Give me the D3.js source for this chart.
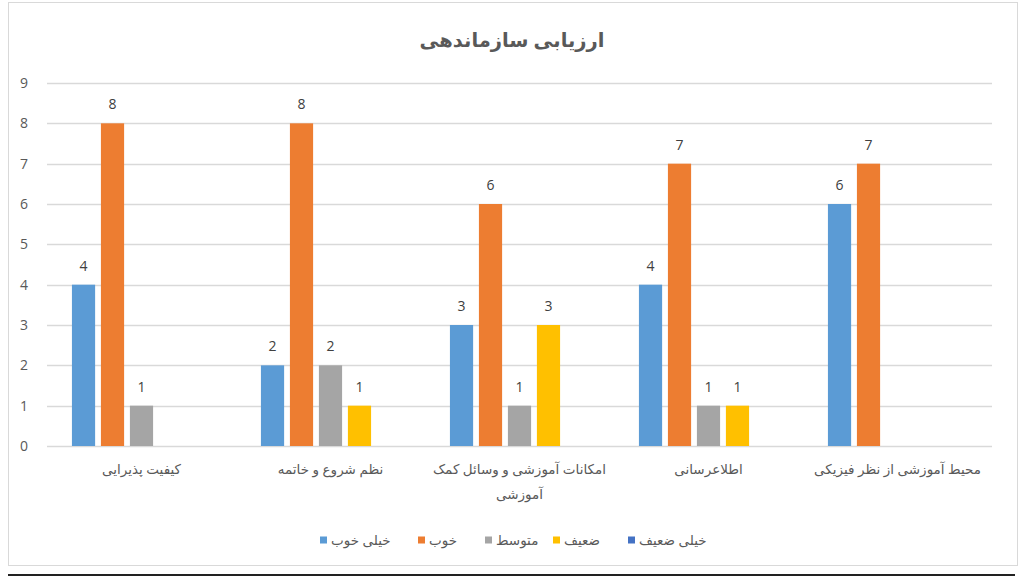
<!DOCTYPE html>
<html>
<head>
<meta charset="utf-8">
<script src="https://cdn.jsdelivr.net/npm/d3@7"></script>
<style>
  body { margin: 0; background: #fff; }
  svg { display: block; }
</style>
</head>
<body>
<svg id="chart" width="1024" height="577"></svg>
<script>
const title = "ارزیابی سازماندهی";
const categories = [
  "کیفیت پذیرایی",
  "نظم شروع و خاتمه",
  "امکانات آموزشی و وسائل کمک آموزشی",
  "اطلاعرسانی",
  "محیط آموزشی از نظر فیزیکی"
];
const seriesNames = ["خیلی خوب", "خوب", "متوسط", "ضعیف", "خیلی ضعیف"];
const seriesColors = ["#5b9bd5", "#ed7d31", "#a5a5a5", "#ffc000", "#4472c4"];
// one array per series, in category order
const veryGood = [4, 2, 3, 4, 6];
const good = [8, 8, 6, 7, 7];
const average = [1, 2, 1, 1, 0];
const weak = [0, 1, 3, 1, 0];
const veryWeak = [0, 0, 0, 0, 0];
const yTicks = [0, 1, 2, 3, 4, 5, 6, 7, 8, 9];

const seriesValues = [veryGood, good, average, weak, veryWeak];
const svg = d3.select("#chart");
const fontFamily = "'Open Sans', 'DejaVu Sans', sans-serif";

// chart frame
svg.append("rect")
  .attr("x", 8.5).attr("y", 2.5)
  .attr("width", 1009).attr("height", 563)
  .attr("fill", "#fff")
  .attr("stroke", "#d9d9d9");

svg.append("line")
  .attr("x1", 8).attr("x2", 1015)
  .attr("y1", 575).attr("y2", 575)
  .attr("stroke", "#222")
  .attr("stroke-width", 2);

const plot = { left: 47, right: 992, top: 83, bottom: 446 };

const y = d3.scaleLinear().domain([0, 9]).range([plot.bottom, plot.top]);
const x0 = d3.scaleBand().domain(categories).range([plot.left, plot.right]);
const x1 = d3.scaleBand()
  .domain(seriesNames)
  .range([0, x0.bandwidth()])
  .paddingInner(0.2)
  .paddingOuter(0.86);

// gridlines
svg.append("g")
  .selectAll("line")
  .data(yTicks)
  .join("line")
  .attr("x1", plot.left).attr("x2", plot.right)
  .attr("y1", (d) => Math.round(y(d)) + 0.5)
  .attr("y2", (d) => Math.round(y(d)) + 0.5)
  .attr("stroke", "#d9d9d9")
  .attr("stroke-width", 1.3);

// y axis labels
const yAxis = d3.axisLeft(y).tickValues(yTicks).tickSize(0).tickPadding(0);
svg.append("g")
  .attr("transform", `translate(${plot.left - 19},0)`)
  .call(yAxis)
  .call((g) => g.select(".domain").remove())
  .selectAll("text")
  .attr("fill", "#595959")
  .style("font-family", fontFamily)
  .style("font-size", "14px");

// bars
const rows = categories.map((c, i) => ({
  category: c,
  values: seriesNames.map((s, j) => ({ series: s, value: seriesValues[j][i], color: seriesColors[j] }))
}));

const groups = svg.append("g")
  .selectAll("g")
  .data(rows)
  .join("g")
  .attr("transform", (d) => `translate(${x0(d.category)},0)`);

groups.selectAll("rect")
  .data((d) => d.values)
  .join("rect")
  .attr("x", (d) => x1(d.series))
  .attr("width", x1.bandwidth())
  .attr("y", (d) => y(d.value))
  .attr("height", (d) => y(0) - y(d.value))
  .attr("fill", (d) => d.color);

// data labels, only for non-zero values
groups.selectAll("text")
  .data((d) => d.values.filter((v) => v.value > 0))
  .join("text")
  .attr("x", (d) => x1(d.series) + x1.bandwidth() / 2)
  .attr("y", (d) => y(d.value) - 14)
  .attr("text-anchor", "middle")
  .attr("fill", "#404040")
  .style("font-family", fontFamily)
  .style("font-size", "14px")
  .text((d) => d.value);

// category labels with word wrap (right-to-left)
const xLabels = svg.append("g")
  .selectAll("text")
  .data(categories)
  .join("text")
  .attr("x", (d) => x0(d) + x0.bandwidth() / 2)
  .attr("y", 474)
  .attr("text-anchor", "middle")
  .attr("direction", "rtl")
  .attr("fill", "#595959")
  .style("font-family", fontFamily)
  .style("font-size", "13.5px");

xLabels.each(function (d) {
  const text = d3.select(this);
  const words = d.split(" ");
  const maxWidth = x0.bandwidth() - 4;
  let line = [];
  let tspan = text.append("tspan").attr("x", text.attr("x")).attr("dy", 0);
  for (const w of words) {
    line.push(w);
    tspan.text(line.join(" "));
    if (tspan.node().getComputedTextLength() > maxWidth && line.length > 1) {
      line.pop();
      tspan.text(line.join(" "));
      line = [w];
      tspan = text.append("tspan")
        .attr("x", text.attr("x"))
        .attr("dy", "1.85em")
        .text(w);
    }
  }
});

// title
svg.append("text")
  .attr("x", 512)
  .attr("y", 47)
  .attr("text-anchor", "middle")
  .attr("direction", "rtl")
  .attr("fill", "#595959")
  .style("font-family", fontFamily)
  .style("font-size", "19.5px")
  .style("font-weight", "bold")
  .text(title);

// legend
const legendX = [320, 418, 485, 553, 628];
const legend = svg.append("g")
  .selectAll("g")
  .data(seriesNames)
  .join("g")
  .attr("transform", (d, i) => `translate(${legendX[i]},540)`);

legend.append("rect")
  .attr("x", 0).attr("y", -3.5)
  .attr("width", 7).attr("height", 7)
  .attr("fill", (d, i) => seriesColors[i]);

legend.append("text")
  .attr("x", 11)
  .attr("y", 5)
  .attr("text-anchor", "end")
  .attr("direction", "rtl")
  .attr("fill", "#595959")
  .style("font-family", fontFamily)
  .style("font-size", "13.5px")
  .text((d) => d);
</script>
</body>
</html>
